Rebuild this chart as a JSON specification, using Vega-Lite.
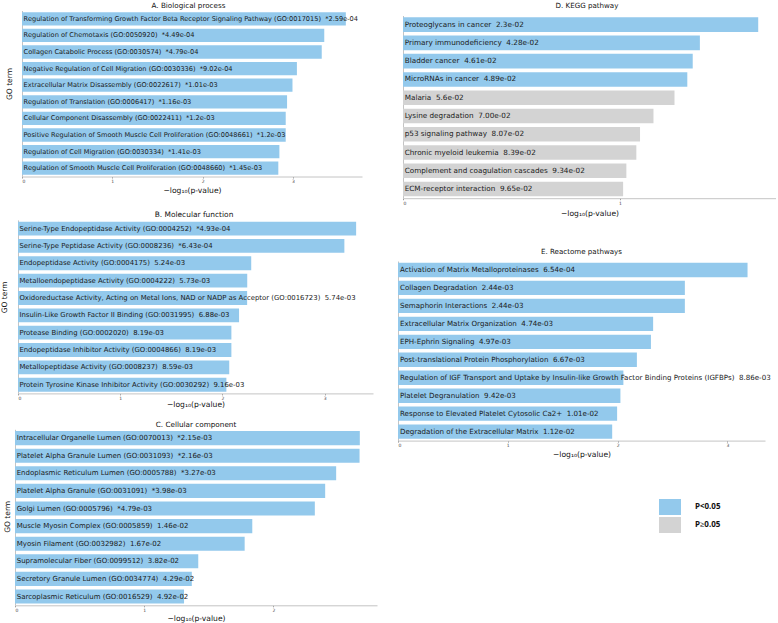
{
  "$schema": "https://vega.github.io/schema/vega-lite/v6.json",
  "padding": {"left": 0, "top": 1.5, "right": 0, "bottom": 0},
  "autosize": {"type": "pad"},
  "datasets": {
    "bp": [
      {"term": "Regulation of Transforming Growth Factor Beta Receptor Signaling Pathway (GO:0017015)", "label": "Regulation of Transforming Growth Factor Beta Receptor Signaling Pathway (GO:0017015)\u00a0\u00a0*2.59e-04", "score": 3.587, "sig": "P<0.05"},
      {"term": "Regulation of Chemotaxis (GO:0050920)", "label": "Regulation of Chemotaxis (GO:0050920)\u00a0\u00a0*4.49e-04", "score": 3.348, "sig": "P<0.05"},
      {"term": "Collagen Catabolic Process (GO:0030574)", "label": "Collagen Catabolic Process (GO:0030574)\u00a0\u00a0*4.79e-04", "score": 3.320, "sig": "P<0.05"},
      {"term": "Negative Regulation of Cell Migration (GO:0030336)", "label": "Negative Regulation of Cell Migration (GO:0030336)\u00a0\u00a0*9.02e-04", "score": 3.045, "sig": "P<0.05"},
      {"term": "Extracellular Matrix Disassembly (GO:0022617)", "label": "Extracellular Matrix Disassembly (GO:0022617)\u00a0\u00a0*1.01e-03", "score": 2.996, "sig": "P<0.05"},
      {"term": "Regulation of Translation (GO:0006417)", "label": "Regulation of Translation (GO:0006417)\u00a0\u00a0*1.16e-03", "score": 2.936, "sig": "P<0.05"},
      {"term": "Cellular Component Disassembly (GO:0022411)", "label": "Cellular Component Disassembly (GO:0022411)\u00a0\u00a0*1.2e-03", "score": 2.921, "sig": "P<0.05"},
      {"term": "Positive Regulation of Smooth Muscle Cell Proliferation (GO:0048661)", "label": "Positive Regulation of Smooth Muscle Cell Proliferation (GO:0048661)\u00a0\u00a0*1.2e-03", "score": 2.921, "sig": "P<0.05"},
      {"term": "Regulation of Cell Migration (GO:0030334)", "label": "Regulation of Cell Migration (GO:0030334)\u00a0\u00a0*1.41e-03", "score": 2.851, "sig": "P<0.05"},
      {"term": "Regulation of Smooth Muscle Cell Proliferation (GO:0048660)", "label": "Regulation of Smooth Muscle Cell Proliferation (GO:0048660)\u00a0\u00a0*1.45e-03", "score": 2.839, "sig": "P<0.05"}
    ],
    "mf": [
      {"term": "Serine-Type Endopeptidase Activity (GO:0004252)", "label": "Serine-Type Endopeptidase Activity (GO:0004252)\u00a0\u00a0*4.93e-04", "score": 3.307, "sig": "P<0.05"},
      {"term": "Serine-Type Peptidase Activity (GO:0008236)", "label": "Serine-Type Peptidase Activity (GO:0008236)\u00a0\u00a0*6.43e-04", "score": 3.192, "sig": "P<0.05"},
      {"term": "Endopeptidase Activity (GO:0004175)", "label": "Endopeptidase Activity (GO:0004175)\u00a0\u00a05.24e-03", "score": 2.281, "sig": "P<0.05"},
      {"term": "Metalloendopeptidase Activity (GO:0004222)", "label": "Metalloendopeptidase Activity (GO:0004222)\u00a0\u00a05.73e-03", "score": 2.242, "sig": "P<0.05"},
      {"term": "Oxidoreductase Activity, Acting on Metal Ions, NAD or NADP as Acceptor (GO:0016723)", "label": "Oxidoreductase Activity, Acting on Metal Ions, NAD or NADP as Acceptor (GO:0016723)\u00a0\u00a05.74e-03", "score": 2.241, "sig": "P<0.05"},
      {"term": "Insulin-Like Growth Factor II Binding (GO:0031995)", "label": "Insulin-Like Growth Factor II Binding (GO:0031995)\u00a0\u00a06.88e-03", "score": 2.162, "sig": "P<0.05"},
      {"term": "Protease Binding (GO:0002020)", "label": "Protease Binding (GO:0002020)\u00a0\u00a08.19e-03", "score": 2.087, "sig": "P<0.05"},
      {"term": "Endopeptidase Inhibitor Activity (GO:0004866)", "label": "Endopeptidase Inhibitor Activity (GO:0004866)\u00a0\u00a08.19e-03", "score": 2.087, "sig": "P<0.05"},
      {"term": "Metallopeptidase Activity (GO:0008237)", "label": "Metallopeptidase Activity (GO:0008237)\u00a0\u00a08.59e-03", "score": 2.066, "sig": "P<0.05"},
      {"term": "Protein Tyrosine Kinase Inhibitor Activity (GO:0030292)", "label": "Protein Tyrosine Kinase Inhibitor Activity (GO:0030292)\u00a0\u00a09.16e-03", "score": 2.038, "sig": "P<0.05"}
    ],
    "cc": [
      {"term": "Intracellular Organelle Lumen (GO:0070013)", "label": "Intracellular Organelle Lumen (GO:0070013)\u00a0\u00a0*2.15e-03", "score": 2.668, "sig": "P<0.05"},
      {"term": "Platelet Alpha Granule Lumen (GO:0031093)", "label": "Platelet Alpha Granule Lumen (GO:0031093)\u00a0\u00a0*2.16e-03", "score": 2.666, "sig": "P<0.05"},
      {"term": "Endoplasmic Reticulum Lumen (GO:0005788)", "label": "Endoplasmic Reticulum Lumen (GO:0005788)\u00a0\u00a0*3.27e-03", "score": 2.485, "sig": "P<0.05"},
      {"term": "Platelet Alpha Granule (GO:0031091)", "label": "Platelet Alpha Granule (GO:0031091)\u00a0\u00a0*3.98e-03", "score": 2.400, "sig": "P<0.05"},
      {"term": "Golgi Lumen (GO:0005796)", "label": "Golgi Lumen (GO:0005796)\u00a0\u00a0*4.79e-03", "score": 2.320, "sig": "P<0.05"},
      {"term": "Muscle Myosin Complex (GO:0005859)", "label": "Muscle Myosin Complex (GO:0005859)\u00a0\u00a01.46e-02", "score": 1.836, "sig": "P<0.05"},
      {"term": "Myosin Filament (GO:0032982)", "label": "Myosin Filament (GO:0032982)\u00a0\u00a01.67e-02", "score": 1.777, "sig": "P<0.05"},
      {"term": "Supramolecular Fiber (GO:0099512)", "label": "Supramolecular Fiber (GO:0099512)\u00a0\u00a03.82e-02", "score": 1.418, "sig": "P<0.05"},
      {"term": "Secretory Granule Lumen (GO:0034774)", "label": "Secretory Granule Lumen (GO:0034774)\u00a0\u00a04.29e-02", "score": 1.368, "sig": "P<0.05"},
      {"term": "Sarcoplasmic Reticulum (GO:0016529)", "label": "Sarcoplasmic Reticulum (GO:0016529)\u00a0\u00a04.92e-02", "score": 1.308, "sig": "P<0.05"}
    ],
    "kegg": [
      {"term": "Proteoglycans in cancer", "label": "Proteoglycans in cancer\u00a0\u00a02.3e-02", "score": 1.638, "sig": "P<0.05"},
      {"term": "Primary immunodeficiency", "label": "Primary immunodeficiency\u00a0\u00a04.28e-02", "score": 1.369, "sig": "P<0.05"},
      {"term": "Bladder cancer", "label": "Bladder cancer\u00a0\u00a04.61e-02", "score": 1.336, "sig": "P<0.05"},
      {"term": "MicroRNAs in cancer", "label": "MicroRNAs in cancer\u00a0\u00a04.89e-02", "score": 1.311, "sig": "P<0.05"},
      {"term": "Malaria", "label": "Malaria\u00a0\u00a05.6e-02", "score": 1.252, "sig": "P≥0.05"},
      {"term": "Lysine degradation", "label": "Lysine degradation\u00a0\u00a07.00e-02", "score": 1.155, "sig": "P≥0.05"},
      {"term": "p53 signaling pathway", "label": "p53 signaling pathway\u00a0\u00a08.07e-02", "score": 1.093, "sig": "P≥0.05"},
      {"term": "Chronic myeloid leukemia", "label": "Chronic myeloid leukemia\u00a0\u00a08.39e-02", "score": 1.076, "sig": "P≥0.05"},
      {"term": "Complement and coagulation cascades", "label": "Complement and coagulation cascades\u00a0\u00a09.34e-02", "score": 1.030, "sig": "P≥0.05"},
      {"term": "ECM-receptor interaction", "label": "ECM-receptor interaction\u00a0\u00a09.65e-02", "score": 1.015, "sig": "P≥0.05"}
    ],
    "reactome": [
      {"term": "Activation of Matrix Metalloproteinases", "label": "Activation of Matrix Metalloproteinases\u00a0\u00a06.54e-04", "score": 3.184, "sig": "P<0.05"},
      {"term": "Collagen Degradation", "label": "Collagen Degradation\u00a0\u00a02.44e-03", "score": 2.613, "sig": "P<0.05"},
      {"term": "Semaphorin Interactions", "label": "Semaphorin Interactions\u00a0\u00a02.44e-03", "score": 2.613, "sig": "P<0.05"},
      {"term": "Extracellular Matrix Organization", "label": "Extracellular Matrix Organization\u00a0\u00a04.74e-03", "score": 2.324, "sig": "P<0.05"},
      {"term": "EPH-Ephrin Signaling", "label": "EPH-Ephrin Signaling\u00a0\u00a04.97e-03", "score": 2.304, "sig": "P<0.05"},
      {"term": "Post-translational Protein Phosphorylation", "label": "Post-translational Protein Phosphorylation\u00a0\u00a06.67e-03", "score": 2.176, "sig": "P<0.05"},
      {"term": "Regulation of IGF Transport and Uptake by Insulin-like Growth Factor Binding Proteins (IGFBPs)", "label": "Regulation of IGF Transport and Uptake by Insulin-like Growth Factor Binding Proteins (IGFBPs)\u00a0\u00a08.86e-03", "score": 2.053, "sig": "P<0.05"},
      {"term": "Platelet Degranulation", "label": "Platelet Degranulation\u00a0\u00a09.42e-03", "score": 2.026, "sig": "P<0.05"},
      {"term": "Response to Elevated Platelet Cytosolic Ca2+", "label": "Response to Elevated Platelet Cytosolic Ca2+\u00a0\u00a01.01e-02", "score": 1.996, "sig": "P<0.05"},
      {"term": "Degradation of the Extracellular Matrix", "label": "Degradation of the Extracellular Matrix\u00a0\u00a01.12e-02", "score": 1.951, "sig": "P<0.05"}
    ]
  },
  "concat": [
    {
      "concat": [
        {
          "concat": [
            {
              "data": {"name": "bp"},
              "width": 347,
              "height": 166,
              "title": {"text": "A. Biological process", "offset": 1.5, "fontSize": 7.2},
              "encoding": {
                "y": {"field": "term", "type": "nominal", "sort": null,
                      "scale": {"paddingInner": 0.2, "paddingOuter": 0.1},
                      "axis": {"title": "GO term", "offset": -7, "minExtent": 0, "titleX": -9, "titleY": 73}}
              },
              "layer": [
                {"mark": {"type": "bar"},
                 "encoding": {
                   "x": {"field": "score", "type": "quantitative", "title": "−log₁₀(p-value)",
                         "scale": {"domain": [0, 3.766], "nice": false, "range": [7, 347]},
                         "axis": {"values": [0, 1, 2, 3]}},
                   "color": {"field": "sig", "type": "nominal",
                             "scale": {"domain": ["P<0.05", "P≥0.05"], "range": ["#93C9EC", "#D3D3D3"]},
                             "legend": {"orient": "none", "legendX": 647, "legendY": 488.5}}
                 }},
                {"mark": {"type": "text", "align": "left", "baseline": "middle", "dx": 1.6, "fontSize": 6.6, "color": "#1a1a1a"},
                 "encoding": {
                   "x": {"datum": 0, "type": "quantitative", "title": "−log₁₀(p-value)"},
                   "text": {"field": "label"}
                 }}
              ]
            },
            {
              "data": {"name": "mf"},
              "width": 358,
              "height": 173.5,
              "title": {"text": "B. Molecular function", "offset": 1.7, "fontSize": 7.45},
              "encoding": {
                "y": {"field": "term", "type": "nominal", "sort": null,
                      "scale": {"paddingInner": 0.2, "paddingOuter": 0.1},
                      "axis": {"title": "GO term", "offset": -3, "minExtent": 0, "titleX": -9.5, "titleY": 77}}
              },
              "layer": [
                {"mark": {"type": "bar"},
                 "encoding": {
                   "x": {"field": "score", "type": "quantitative", "title": "−log₁₀(p-value)",
                         "scale": {"domain": [0, 3.472], "nice": false, "range": [3, 358]},
                         "axis": {"values": [0, 1, 2, 3], "titlePadding": 0.5}},
                   "color": {"field": "sig", "type": "nominal",
                             "scale": {"domain": ["P<0.05", "P≥0.05"], "range": ["#93C9EC", "#D3D3D3"]}}
                 }},
                {"mark": {"type": "text", "align": "left", "baseline": "middle", "dx": 1.4, "fontSize": 6.9, "color": "#1a1a1a"},
                 "encoding": {
                   "x": {"datum": 0, "type": "quantitative", "title": "−log₁₀(p-value)"},
                   "text": {"field": "label"}
                 }}
              ]
            }
          ],
          "columns": 1,
          "spacing": 15.4
        },
        {
          "data": {"name": "cc"},
          "width": 362,
          "height": 176,
          "title": {"text": "C. Cellular component", "offset": 1.5, "fontSize": 7.25},
          "encoding": {
            "y": {"field": "term", "type": "nominal", "sort": null,
                  "scale": {"paddingInner": 0.2, "paddingOuter": 0.1},
                  "axis": {"title": "GO term", "minExtent": 14, "titleX": -4, "titleY": 87}}
          },
          "layer": [
            {"mark": {"type": "bar"},
             "encoding": {
               "x": {"field": "score", "type": "quantitative", "title": "−log₁₀(p-value)",
                     "scale": {"domain": [0, 2.801], "nice": false},
                     "axis": {"values": [0, 1, 2]}},
               "color": {"field": "sig", "type": "nominal",
                         "scale": {"domain": ["P<0.05", "P≥0.05"], "range": ["#93C9EC", "#D3D3D3"]}}
             }},
            {"mark": {"type": "text", "align": "left", "baseline": "middle", "dx": 1.7, "fontSize": 7.0, "color": "#1a1a1a"},
             "encoding": {
               "x": {"datum": 0, "type": "quantitative", "title": "−log₁₀(p-value)"},
               "text": {"field": "label"}
             }}
          ]
        }
      ],
      "columns": 1,
      "spacing": 11.8
    },
    {
      "concat": [
        {
          "data": {"name": "kegg"},
          "width": 378,
          "height": 187.7,
          "title": {"text": "D. KEGG pathway", "offset": 1.6, "fontSize": 7.1},
          "encoding": {
            "y": {"field": "term", "type": "nominal", "sort": null,
                  "scale": {"paddingInner": 0.2, "paddingOuter": 0.1, "range": [5, 187.7]},
                  "axis": {"title": null, "offset": -5, "minExtent": 0}}
          },
          "layer": [
            {"mark": {"type": "bar"},
             "encoding": {
               "x": {"field": "score", "type": "quantitative", "title": "−log₁₀(p-value)",
                     "scale": {"domain": [0, 1.72], "nice": false, "range": [5, 378]},
                     "axis": {"values": [0, 1], "titlePadding": 4.5}},
               "color": {"field": "sig", "type": "nominal",
                         "scale": {"domain": ["P<0.05", "P≥0.05"], "range": ["#93C9EC", "#D3D3D3"]}}
             }},
            {"mark": {"type": "text", "align": "left", "baseline": "middle", "dx": 1.7, "fontSize": 7.25, "color": "#1a1a1a"},
             "encoding": {
               "x": {"datum": 0, "type": "quantitative", "title": "−log₁₀(p-value)"},
               "text": {"field": "label"}
             }}
          ]
        },
        {
          "data": {"name": "reactome"},
          "width": 367,
          "height": 179.6,
          "title": {"text": "E. Reactome pathways", "offset": 5.5, "fontSize": 7.1},
          "encoding": {
            "y": {"field": "term", "type": "nominal", "sort": null,
                  "scale": {"paddingInner": 0.2, "paddingOuter": 0.1},
                  "axis": {"title": null, "minExtent": 2}}
          },
          "layer": [
            {"mark": {"type": "bar"},
             "encoding": {
               "x": {"field": "score", "type": "quantitative", "title": "−log₁₀(p-value)",
                     "scale": {"domain": [0, 3.343], "nice": false},
                     "axis": {"values": [0, 1, 2, 3]}},
               "color": {"field": "sig", "type": "nominal",
                         "scale": {"domain": ["P<0.05", "P≥0.05"], "range": ["#93C9EC", "#D3D3D3"]}}
             }},
            {"mark": {"type": "text", "align": "left", "baseline": "middle", "dx": 2, "fontSize": 7.1, "color": "#1a1a1a"},
             "encoding": {
               "x": {"datum": 0, "type": "quantitative", "title": "−log₁₀(p-value)"},
               "text": {"field": "label"}
             }}
          ]
        }
      ],
      "columns": 1,
      "spacing": 30.5
    }
  ],
  "columns": 2,
  "spacing": 19,
  "config": {
    "view": {"stroke": null},
    "font": "DejaVu Sans",
    "title": {"font": "DejaVu Sans", "fontSize": 7.5, "fontWeight": "normal", "color": "#111111", "anchor": "middle"},
    "axis": {"grid": false, "domainColor": "#c4c4c4", "domainWidth": 1,
             "labelFont": "DejaVu Sans", "titleFont": "DejaVu Sans", "titleFontWeight": "normal", "titleColor": "#111111"},
    "axisX": {"format": "d", "labelFontSize": 4.5, "labelColor": "#444444", "tickSize": 1.5, "tickColor": "#999999",
              "labelPadding": 0.5, "titleFontSize": 7.6, "titlePadding": 3},
    "axisY": {"labels": false, "ticks": false, "titleFontSize": 7.5},
    "legend": {"title": null, "symbolType": "M-1.375,-1H1.375V1H-1.375Z", "symbolSize": 256, "symbolStrokeWidth": 0,
               "symbolOpacity": 1, "labelFont": "Noto Sans", "labelFontWeight": "bold", "labelFontSize": 8,
               "labelColor": "#111111", "labelOffset": 17, "rowPadding": 2}
  }
}
